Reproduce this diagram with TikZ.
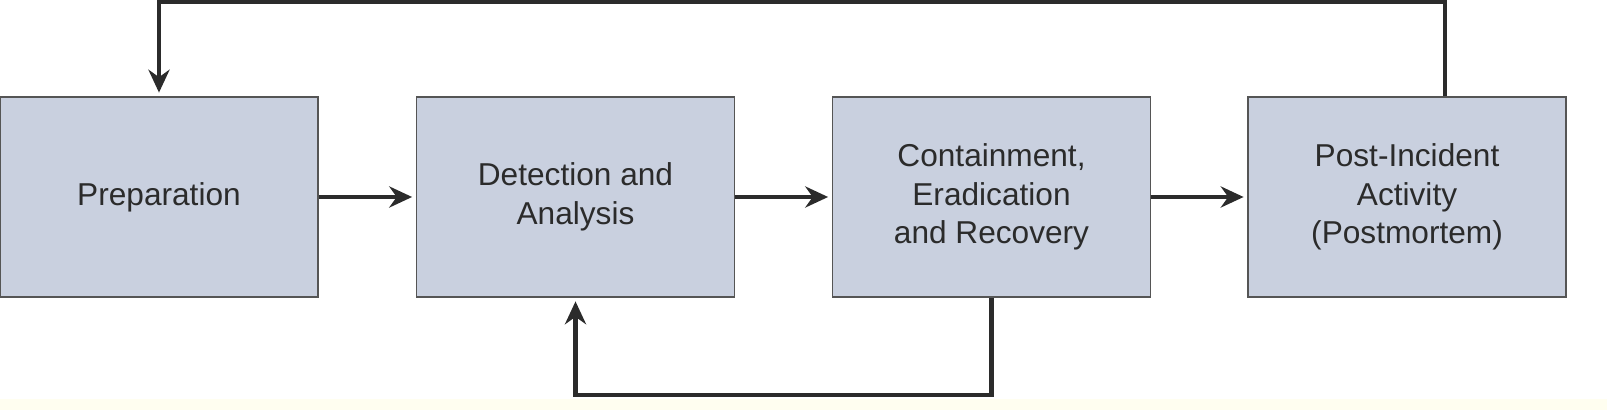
\documentclass[tikz,border=0pt]{standalone}
\usepackage{fontspec}
\setmainfont{Liberation Sans}
\usetikzlibrary{arrows.meta,positioning}
\definecolor{boxfill}{HTML}{C9D0DF}
\definecolor{linecol}{HTML}{2B2B2B}
\begin{document}
\begin{tikzpicture}[
	phase/.style={draw=linecol!80,line width=1pt,fill=boxfill,minimum width=6.36cm,minimum height=4cm,align=center,font=\fontsize{18}{22}\selectfont,text=linecol},
	flow/.style={draw=linecol,line width=2.4pt,-{Stealth[length=13pt,width=12pt]}}]
	\useasboundingbox (0,0) rectangle (32.14,8.2);
	\fill[yellow!6] (0,0) rectangle (32.14,0.22);
	\node[phase] (prep) at (3.18,4.26) {Preparation};
	\node[phase] (detect) at (11.51,4.26) {Detection and\\Analysis};
	\node[phase] (contain) at (19.83,4.26) {Containment,\\Eradication\\and Recovery};
	\node[phase] (post) at (28.14,4.26) {Post-Incident\\Activity\\(Postmortem)};
	\coordinate (top) at (28.9,8.16);
	\coordinate (bot) at (19.83,0.3);
	\draw[flow] (prep) -- ([xshift=-2pt]detect.west);
	\draw[flow] (detect) -- ([xshift=-2pt]contain.west);
	\draw[flow] (contain) -- ([xshift=-2pt]post.west);
	\draw[flow] (top |- post.north) -- (top) -| ([yshift=2pt]prep.north);
	\draw[flow] (contain.south) -- (bot) -| ([yshift=-2pt]detect.south);
\end{tikzpicture}
\end{document}
